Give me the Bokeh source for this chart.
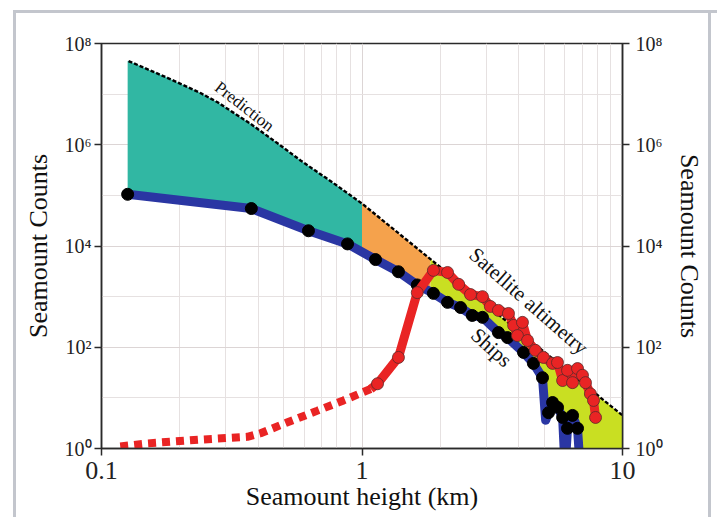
import numpy as np
from bokeh.plotting import figure
from bokeh.models import FixedTicker, LogAxis, Label, Range1d
from bokeh.embed import file_html
from bokeh.resources import INLINE

# ---- data ----
xticks = [0.1, 1, 10]
xtick_labels = ["0.1", "1", "10"]
xminor = [0.2, 0.3, 0.4, 0.5, 0.6, 0.7, 0.8, 0.9, 2, 3, 4, 5, 6, 7, 8, 9]
yticks = [1, 1e2, 1e4, 1e6, 1e8]
ytick_labels = ["10⁰", "10²", "10⁴", "10⁶", "10⁸"]
yminor = [10, 1e3, 1e5, 1e7]

prediction_x = [0.127, 0.179, 0.24, 0.279, 0.373, 0.474, 0.581, 0.778, 1.0, 2.0, 5.0, 10.0]
prediction_y = [4.5e7, 2.1e7, 1.05e7, 6.9e6, 2.6e6, 1.07e6, 4.9e5, 1.74e5, 6.9e4, 3.8e3, 81, 4.5]

ships_x = [0.126, 0.376, 0.623, 0.880, 1.127, 1.38, 1.63, 1.88, 2.13, 2.39, 2.65, 2.90,
           3.34, 3.62, 4.17, 4.55, 4.93, 5.20, 5.39, 5.63, 5.89, 6.15, 6.43, 6.72]
ships_y = [1.05e5, 5.5e4, 2.0e4, 1.1e4, 5.4e3, 3.1e3, 1.7e3, 1.16e3, 770, 610, 425, 390,
           195, 155, 79, 48, 25, 5.1, 8.1, 6.5, 4.1, 2.5, 4.5, 2.5]

# ships histogram line (includes the empty bins that drop off the axis)
ships_line_x = [0.126, 0.376, 0.623, 0.880, 1.127, 1.38, 1.63, 1.88, 2.13, 2.39, 2.65, 2.90,
                3.34, 3.62, 4.17, 4.55, 4.93, 5.07, 5.20, 5.39, 5.63, 5.89, 6.02, 6.15,
                6.43, 6.72, 6.88]
ships_line_y = [1.05e5, 5.5e4, 2.0e4, 1.1e4, 5.4e3, 3.1e3, 1.7e3, 1.16e3, 770, 610, 425, 390,
                195, 155, 79, 48, 25, 3.6, 5.1, 8.1, 6.5, 4.1, 0.4, 2.5,
                4.5, 2.5, 0.4]

sat_low_x = [0.118, 0.150, 0.24, 0.363, 0.408, 0.518, 0.675, 0.849, 1.08]
sat_low_y = [1.1, 1.26, 1.5, 1.7, 2.0, 3.3, 5.6, 8.9, 15]

sat_x = [1.147, 1.38, 1.63, 1.88, 2.13, 2.35, 2.61, 2.90, 3.11, 3.34, 3.65, 3.82, 3.95,
         4.13, 4.32, 4.63, 4.97, 5.39, 5.63, 5.89, 6.15, 6.43, 6.72, 7.02, 7.21, 7.53,
         7.74, 7.88]
sat_y = [19, 63, 1200, 3300, 3000, 1750, 1100, 1000, 640, 535, 465, 270, 170,
         310, 136, 87, 63, 48, 50, 22, 35, 20, 38, 28, 20, 12, 8.9, 4.1]

band_edges = [0.126, 1.0, 1.83, 10.0]
band_colors = ["#31b7a3", "#f5a24c", "#c9df22"]

SERIF = "Liberation Serif"
BLUE = "#2a36a3"
RED = "#e92424"

# ---- figure ----
p = figure(width=717, height=517, x_axis_type="log", y_axis_type="log",
           x_range=Range1d(0.1, 10), y_range=Range1d(1, 1e8),
           output_backend="svg", toolbar_location=None,
           min_border_left=101, min_border_right=95, min_border_top=43, min_border_bottom=69)
p.background_fill_color = "white"
p.border_fill_color = None
p.outline_line_color = "#2a2a2a"
p.outline_line_width = 1.5
p.styles = {
    "background-image": "linear-gradient(#c3c6cd,#c3c6cd), linear-gradient(#c3c6cd,#c3c6cd), linear-gradient(#c3c6cd,#c3c6cd)",
    "background-size": "3px 100%, 100% 3px, 3px 100%",
    "background-position": "13px 10px, 13px 10px, 708px 10px",
    "background-repeat": "no-repeat",
}

# axes
p.xaxis.ticker = FixedTicker(ticks=xticks, minor_ticks=xminor)
p.xaxis.major_label_overrides = dict(zip(xticks, xtick_labels))
p.yaxis.ticker = FixedTicker(ticks=yticks, minor_ticks=yminor)
p.yaxis.major_label_overrides = dict(zip(yticks, ytick_labels))

right = LogAxis(ticker=FixedTicker(ticks=yticks, minor_ticks=yminor),
                major_label_overrides=dict(zip(yticks, ytick_labels)))
p.add_layout(right, "right")

for ax in [p.xaxis[0], p.yaxis[0], right]:
    ax.axis_line_color = "#2a2a2a"
    ax.axis_line_width = 1.5
    ax.major_tick_line_color = "#2a2a2a"
    ax.major_tick_line_width = 1.5
    ax.major_tick_out = 7
    ax.major_tick_in = 0
    ax.minor_tick_line_color = None
    ax.major_label_text_font = SERIF
    ax.major_label_text_color = "#222222"
    ax.axis_label_text_font = SERIF
    ax.axis_label_text_font_style = "normal"
    ax.axis_label_text_color = "#111111"
    ax.axis_label_text_font_size = "26px"

p.xaxis.axis_label = "Seamount height (km)"
p.xaxis.major_label_text_font_size = "26px"
p.xaxis.major_label_standoff = 6
p.xaxis.axis_label_standoff = 0

p.yaxis.axis_label = "Seamount Counts"
p.yaxis.major_label_text_font_size = "20px"
p.yaxis.major_label_standoff = 3
p.yaxis.axis_label_standoff = 9

right.axis_label = "Seamount Counts"
right.major_label_text_font_size = "20px"
right.major_label_standoff = 6
right.axis_label_standoff = 9

for g in [p.xgrid[0], p.ygrid[0]]:
    g.grid_line_color = "#dcd5d5"
    g.minor_grid_line_color = "#e6e1e1"

# ---- bands between prediction and ships ----
def loginterp(xq, xs, ys):
    return 10 ** np.interp(np.log10(xq), np.log10(xs), np.log10(ys))

allx = np.array(sorted(set(prediction_x) | set(ships_line_x) | set(band_edges)))
for (lo, hi), col in zip(zip(band_edges[:-1], band_edges[1:]), band_colors):
    xs = allx[(allx >= lo) & (allx <= hi)]
    top = loginterp(xs, prediction_x, prediction_y)
    bot = loginterp(xs, ships_line_x, ships_line_y)
    p.varea(x=xs, y1=bot, y2=top, fill_color=col, fill_alpha=1)

# prediction
p.line(prediction_x, prediction_y, line_color="black", line_width=2.4, line_dash="4 2")

# ships
p.line(ships_line_x, ships_line_y, line_color=BLUE, line_width=9, line_join="round")
p.scatter(ships_x, ships_y, size=12, fill_color="black", line_color="black")

# satellite altimetry
p.line(sat_low_x, sat_low_y, line_color=RED, line_width=8, line_dash="8 6")
p.line([sat_low_x[-1]] + sat_x, [sat_low_y[-1]] + sat_y, line_color=RED, line_width=9,
       line_join="round")
p.scatter(sat_x, sat_y, size=12, fill_color=RED, line_color="#5a2a2a", line_width=0.8)

# labels
p.add_layout(Label(x=0.354, y=5.7e6, text="Prediction", angle=-0.66,
                   text_align="center", text_baseline="middle",
                   text_font=SERIF, text_font_size="17px", text_color="#111111"))
p.add_layout(Label(x=4.36, y=820, text="Satellite altimetry", angle=-0.72,
                   text_align="center", text_baseline="middle",
                   text_font=SERIF, text_font_size="21px", text_color="#111111"))
p.add_layout(Label(x=3.14, y=99, text="Ships", angle=-0.74,
                   text_align="center", text_baseline="middle",
                   text_font=SERIF, text_font_size="21px", text_color="#111111"))

open("out.html", "w").write(file_html(p, INLINE))
